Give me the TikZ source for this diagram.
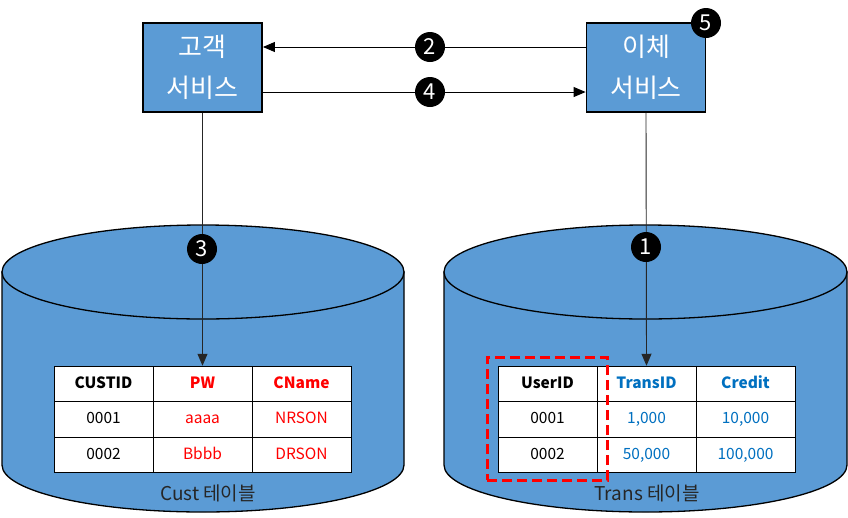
\documentclass[tikz,border=0pt]{standalone}
\usepackage{fontspec}
\setmainfont{Noto Sans CJK KR}
\usetikzlibrary{arrows.meta,matrix}
\definecolor{cylblue}{HTML}{5B9BD5}
\definecolor{tblue}{HTML}{0070C0}
\definecolor{tred}{HTML}{FF0000}
\begin{document}
\begin{tikzpicture}[x=1pt,y=-1pt,
  svc/.style={draw=black, line width=1.8pt, fill=cylblue, text=white, minimum width=119pt, minimum height=89pt, inner sep=0pt, align=center, font=\fontsize{26}{41}\selectfont},
  cyl/.style={draw=black, line width=1.3pt, fill=cylblue},
  arr/.style={-{Triangle[length=12pt,width=10pt]}, line width=1pt},
  varr/.style={-{Triangle[length=12pt,width=10pt]}, line width=0.9pt, draw=black!85},
  badge/.style={circle, fill=black, text=white, minimum size=30pt, inner sep=0pt, font=\fontsize{22}{22}\selectfont},
  cell/.style={draw=black, fill=white, line width=1pt, minimum width=99pt, minimum height=35.5pt, inner sep=0pt, text height=11pt, text depth=3pt, font=\fontsize{15.5}{17}\selectfont, anchor=center},
  hd/.style={font=\fontsize{15.5}{17}\selectfont\bfseries},
  tbl/.style={matrix of nodes, nodes={cell}, column sep=-1pt, row sep=-1pt, inner sep=0pt},
  lab/.style={font=\fontsize{19}{22}\selectfont, text=black!85, inner sep=0pt},
  hilite/.style={draw=tred, line width=3pt, dash pattern=on 10pt off 5pt, minimum width=120pt, minimum height=123pt, inner sep=0pt}
]
\useasboundingbox (0,0) rectangle (848,517);

% cylinders
\filldraw[cyl] (2,465) arc[start angle=180,end angle=360,x radius=201pt,y radius=47pt] -- (404,272) -- (2,272) -- cycle;
\filldraw[cyl] (203,272) ellipse[x radius=201pt, y radius=47pt];
\filldraw[cyl] (444,465) arc[start angle=180,end angle=360,x radius=201.5pt,y radius=47pt] -- (847,272) -- (444,272) -- cycle;
\filldraw[cyl] (645.5,272) ellipse[x radius=201.5pt, y radius=47pt];

% services
\node[svc] (cust) at (202.5,67.5) {고객\\서비스};
\node[svc] (trans) at (646,67.5) {이체\\서비스};

% tables
\matrix (ct) at (202.5,419.5) [tbl] {
 |[hd]| CUSTID & |[hd,text=tred]| PW & |[hd,text=tred]| CName \\
 0001 & |[text=tred]| aaaa & |[text=tred]| NRSON \\
 0002 & |[text=tred]| Bbbb & |[text=tred]| DRSON \\
};
\matrix (tt) at (646.5,419.5) [tbl] {
 |[hd]| UserID & |[hd,text=tblue]| TransID & |[hd,text=tblue]| Credit \\
 0001 & |[text=tblue]| 1,000 & |[text=tblue]| 10,000 \\
 0002 & |[text=tblue]| 50,000 & |[text=tblue]| 100,000 \\
};
\node[hilite] (hl) at (547,418.5) {};

% labels
\node[lab] (cl) at (208,493) {Cust 테이블};
\node[lab] (tl) at (647,493) {Trans 테이블};

% connectors
\draw[arr] ([yshift=20.5pt]trans.west) -- ([yshift=20.5pt]cust.east);
\draw[arr] ([yshift=-24.5pt]cust.east) -- ([yshift=-24.5pt]trans.west);
\draw[varr] (cust.south) -- (ct-1-2.north);
\draw[varr] (trans.south) -- (tt-1-2.north);

% badges
\node[badge] (b1) at (646,247) {1};
\node[badge] (b2) at (430,47) {2};
\node[badge] (b3) at (202,249) {3};
\node[badge] (b4) at (430,92) {4};
\node[badge] (b5) at (706,23) {5};
\end{tikzpicture}
\end{document}
